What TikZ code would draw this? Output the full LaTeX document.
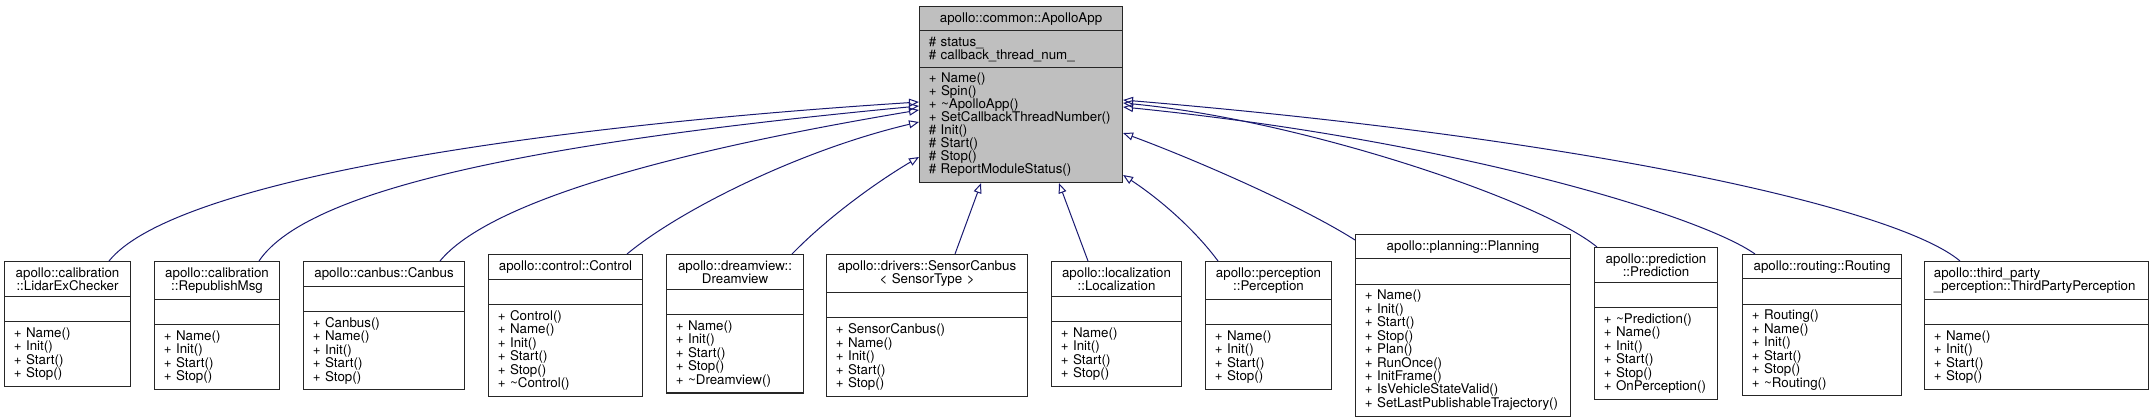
\documentclass[tikz,border=0pt]{standalone}
\usepackage{fontspec}
\setmainfont{TeX Gyre Heros}
\usetikzlibrary{arrows.meta,calc,shapes.multipart}
\definecolor{edgeblue}{HTML}{191970}
\definecolor{basegray}{HTML}{BFBFBF}
\hyphenpenalty=10000 \exhyphenpenalty=10000
\tikzset{cls/.style={rectangle split,rectangle split parts=3,draw=black!85,line width=0.8pt,
    anchor=north west,text width=#1,align=left,inner xsep=7pt,inner ysep=4pt,
    font=\fontsize{10pt}{10.1pt}\selectfont},
  inherit/.style={edgeblue,line width=0.75pt,-{Triangle[open,length=7.5pt,width=6pt]}}}

\begin{document}
\begin{tikzpicture}[x=0.75pt,y=0.75pt]
\useasboundingbox (0,0) rectangle (2153,-419);
% base class
\node[cls=138.25pt,fill=basegray,font=\fontsize{10pt}{9.75pt}\selectfont] (app) at (919,-6) {\centerline{apollo::common::ApolloApp}
  \nodepart{second}\# status\_\\\# callback\_thread\_num\_
  \nodepart{third}+ Name()\\+ Spin()\\+ \textasciitilde ApolloApp()\\+ SetCallbackThreadNumber()\\\# Init()\\\# Start()\\\# Stop()\\\# ReportModuleStatus()};
% derived classes
\node[cls=80.5pt] (lidar) at (4,-261) {\centerline{apollo::calibration}\\\centerline{::LidarExChecker}
  \nodepart{second}\strut
  \nodepart{third}+ Name()\\+ Init()\\+ Start()\\+ Stop()};
\node[cls=79.75pt] (republish) at (154,-261) {\centerline{apollo::calibration}\\\centerline{::RepublishMsg}
  \nodepart{second}\strut
  \nodepart{third}+ Name()\\+ Init()\\+ Start()\\+ Stop()};
\node[cls=106.75pt] (canbus) at (303,-261) {\centerline{apollo::canbus::Canbus}
  \nodepart{second}\strut
  \nodepart{third}+ Canbus()\\+ Name()\\+ Init()\\+ Start()\\+ Stop()};
\node[cls=101.5pt] (control) at (488,-254) {\centerline{apollo::control::Control}
  \nodepart{second}\strut
  \nodepart{third}+ Control()\\+ Name()\\+ Init()\\+ Start()\\+ Stop()\\+ \textasciitilde Control()};
\node[cls=88.75pt] (dreamview) at (666,-254) {\centerline{apollo::dreamview::}\\\centerline{Dreamview}
  \nodepart{second}\strut
  \nodepart{third}+ Name()\\+ Init()\\+ Start()\\+ Stop()\\+ \textasciitilde Dreamview()};
\node[cls=136.75pt] (sensor) at (826,-254) {\centerline{apollo::drivers::SensorCanbus}\\\centerline{< SensorType >}
  \nodepart{second}\strut
  \nodepart{third}+ SensorCanbus()\\+ Name()\\+ Init()\\+ Start()\\+ Stop()};
\node[cls=83.5pt] (localization) at (1051,-261) {\centerline{apollo::localization}\\\centerline{::Localization}
  \nodepart{second}\strut
  \nodepart{third}+ Name()\\+ Init()\\+ Start()\\+ Stop()};
\node[cls=80.5pt] (perception) at (1205,-261) {\centerline{apollo::perception}\\\centerline{::Perception}
  \nodepart{second}\strut
  \nodepart{third}+ Name()\\+ Init()\\+ Start()\\+ Stop()};
\node[cls=147.25pt] (planning) at (1355,-234) {\centerline{apollo::planning::Planning}
  \nodepart{second}\strut
  \nodepart{third}+ Name()\\+ Init()\\+ Start()\\+ Stop()\\+ Plan()\\+ RunOnce()\\+ InitFrame()\\+ IsVehicleStateValid()\\+ SetLastPublishableTrajectory()};
\node[cls=78.25pt] (prediction) at (1594,-247) {\centerline{apollo::prediction}\\\centerline{::Prediction}
  \nodepart{second}\strut
  \nodepart{third}+ \textasciitilde Prediction()\\+ Name()\\+ Init()\\+ Start()\\+ Stop()\\+ OnPerception()};
\node[cls=105.25pt] (routing) at (1742,-254) {\centerline{apollo::routing::Routing}
  \nodepart{second}\strut
  \nodepart{third}+ Routing()\\+ Name()\\+ Init()\\+ Start()\\+ Stop()\\+ \textasciitilde Routing()};
\node[cls=154pt] (third) at (1924,-261) {apollo::third\_party\\\_perception::ThirdPartyPerception
  \nodepart{second}\strut
  \nodepart{third}+ Name()\\+ Init()\\+ Start()\\+ Stop()};
% inheritance edges
\foreach \c/\s/\p/\q/\e in {lidar/{105,0}/{61,76}/{-419,-27}/-96,
    republish/{105,0}/{51,76}/{-359,-34}/-100,
    canbus/{137,0}/{50,61}/{-239,-40}/-104,
    control/{139,0}/{53,44}/{-119,-28}/-116,
    dreamview/{126,0}/{38,39}/{-39,-23}/-151}
  \draw[inherit] ($(\c.north west)+(\s)$) .. controls +(\p) and +(\q) .. ($(app.north west)+(0,\e)$);
\foreach \c/\s/\p/\q/\e in {perception/{13,0}/{-23,31}/{38,-25}/-169,
    planning/{0,-6}/{-55,35}/{68,-25}/-127,
    prediction/{3,0}/{-57,47}/{178,-17}/-97,
    routing/{13,0}/{-55,39}/{328,-33}/-101,
    third/{36,0}/{-60,51}/{478,-40}/-94}
  \draw[inherit] ($(\c.north west)+(\s)$) .. controls +(\p) and +(\q) .. ($(app.north east)+(0,\e)$);
\draw[inherit] ($(sensor.north west)+(129,0)$) -- ($(app.south west)+(62,0)$);
\draw[inherit] ($(localization.north west)+(37,0)$) -- ($(app.south west)+(140,0)$);
\end{tikzpicture}
\end{document}
